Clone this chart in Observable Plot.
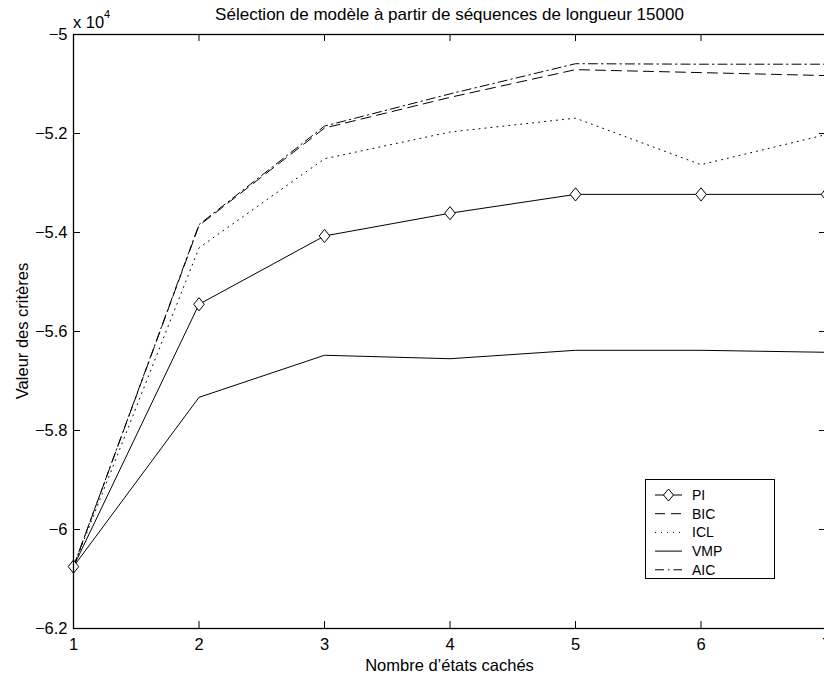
<!DOCTYPE html>
<html>
<head>
<meta charset="utf-8">
<script src="https://cdn.jsdelivr.net/npm/d3@7"></script>
<script src="https://cdn.jsdelivr.net/npm/@observablehq/plot@0.6"></script>
<style>
  html, body { margin: 0; padding: 0; background: white; overflow: hidden; }
  #wrap { width: 824px; height: 675px; overflow: hidden; position: relative; }
  #wrap svg { display: block; }
</style>
</head>
<body>
<div id="wrap"></div>
<script>
// ---- data (values in units of 10^4) ----
const states = [1, 2, 3, 4, 5, 6, 7];
const PI  = [-6.075, -5.545, -5.407, -5.361, -5.323, -5.323, -5.323];
const BIC = [-6.075, -5.386, -5.189, -5.127, -5.071, -5.077, -5.083];
const ICL = [-6.075, -5.431, -5.251, -5.197, -5.169, -5.263, -5.202];
const VMP = [-6.075, -5.733, -5.648, -5.655, -5.638, -5.638, -5.642];
const AIC = [-6.075, -5.384, -5.185, -5.120, -5.059, -5.060, -5.060];
const xTicks = [1, 2, 3, 4, 5, 6, 7];
const yTicks = [-6.2, -6, -5.8, -5.6, -5.4, -5.2, -5];
const seriesNames = ["PI", "BIC", "ICL", "VMP", "AIC"];
const titleText = "Sélection de modèle à partir de séquences de longueur 15000";
const xLabel = "Nombre d’états cachés";
const yLabel = "Valeur des critères";

const rows = states.map((x, i) => ({x, PI: PI[i], BIC: BIC[i], ICL: ICL[i], VMP: VMP[i], AIC: AIC[i]}));

const dash = {PI: null, BIC: "10,6", ICL: "1,5", VMP: null, AIC: "9,4,1.5,4"};

const diamond = {
  draw(ctx) {
    ctx.moveTo(0, -6.6); ctx.lineTo(5.3, 0); ctx.lineTo(0, 6.6); ctx.lineTo(-5.3, 0); ctx.closePath();
  }
};

const W = 826, H = 675, mT = 34, mB = 47, mL = 73, mR = 0;
const tick = 7;
const fw = W - mL - mR, fh = H - mT - mB;
const FONT = "'Liberation Sans', Arial, Helvetica, sans-serif";
const FS = 16.5;

const chart = Plot.plot({
  width: W, height: H,
  marginTop: mT, marginBottom: mB, marginLeft: mL, marginRight: mR,
  x: {domain: [1, 7]},
  y: {domain: [-6.2, -5]},
  style: {fontFamily: FONT, fontSize: FS + "px", color: "black", background: "white", maxWidth: "none", overflow: "visible"},
  marks: [
    ...seriesNames.map(s => Plot.line(rows, {x: "x", y: s, stroke: "black", strokeWidth: 1, strokeDasharray: dash[s]})),
    Plot.dot(rows, {x: "x", y: "PI", symbol: diamond, r: 5, fill: "white", stroke: "black", strokeWidth: 1}),
    Plot.frame({stroke: "black", strokeWidth: 1.3}),
    Plot.tickX(xTicks, {x: d => d, insetTop: fh - tick, stroke: "black"}),
    Plot.tickX(xTicks, {x: d => d, insetBottom: fh - tick, stroke: "black"}),
    Plot.tickY(yTicks, {y: d => d, insetRight: fw - tick, stroke: "black"}),
    Plot.tickY(yTicks, {y: d => d, insetLeft: fw - tick, stroke: "black"}),
    Plot.axisX(xTicks, {anchor: "bottom", tickSize: 0, tickPadding: 10, label: null, fill: "black", fontSize: FS, tickFormat: d3.format("d")}),
    Plot.axisY(yTicks, {anchor: "left", tickSize: 0, tickPadding: 6, label: null, fill: "black", fontSize: FS, tickFormat: d3.format("")})
  ]
});

document.getElementById("wrap").appendChild(chart);

// annotations
const svg = d3.select(chart);
const g = svg.append("g").attr("font-family", FONT).attr("fill", "black");
const cx = mL + fw / 2;
g.append("text").attr("x", cx).attr("y", 20).attr("text-anchor", "middle").attr("font-size", 17).text(titleText);
g.append("text").attr("x", cx).attr("y", 671).attr("text-anchor", "middle").attr("font-size", FS).text(xLabel);
g.append("text").attr("transform", `translate(28,${mT + fh / 2}) rotate(-90)`).attr("text-anchor", "middle").attr("font-size", FS).text(yLabel);
g.append("text").attr("x", 73).attr("y", 28).attr("text-anchor", "start").attr("font-size", FS).text("x 10");
g.append("text").attr("x", 104).attr("y", 18).attr("text-anchor", "start").attr("font-size", 11).text("4");

// legend
const lg = svg.append("g").attr("font-family", FONT);
lg.append("rect").attr("x", 645.5).attr("y", 479.5).attr("width", 129).attr("height", 99)
  .attr("fill", "white").attr("stroke", "black").attr("stroke-width", 1);
seriesNames.forEach((s, i) => {
  const y = 495 + i * 18.7;
  lg.append("line").attr("x1", 655).attr("x2", 682).attr("y1", y).attr("y2", y)
    .attr("stroke", "black").attr("stroke-width", 1).attr("stroke-dasharray", dash[s]);
  if (s === "PI") {
    lg.append("path").attr("transform", `translate(668.5,${y})`).attr("d", "M0,-6L5,0L0,6L-5,0Z")
      .attr("fill", "white").attr("stroke", "black");
  }
  lg.append("text").attr("x", 692).attr("y", y + 5).attr("text-anchor", "start").attr("font-size", 14).attr("fill", "black").text(s);
});
</script>
</body>
</html>
